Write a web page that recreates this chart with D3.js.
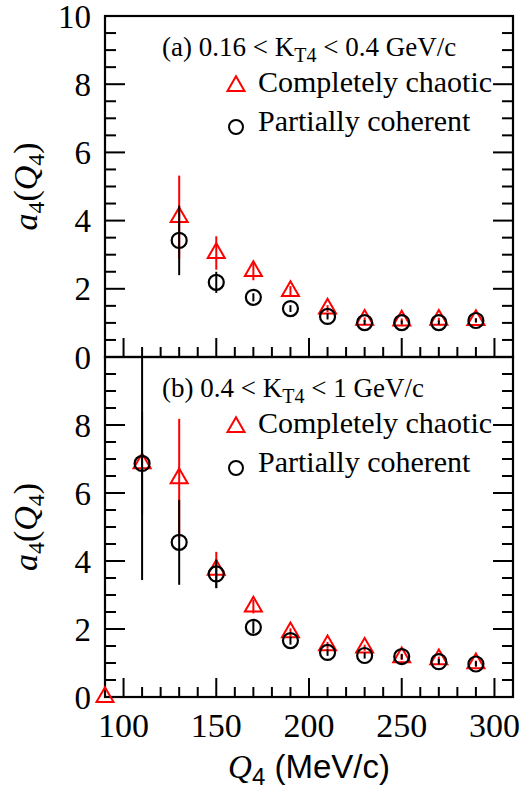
<!DOCTYPE html>
<html><head><meta charset="utf-8">
<script src="https://cdn.jsdelivr.net/npm/d3@7"></script>
<style>body{margin:0;background:#fff}svg{display:block}</style>
</head><body>
<script>
// ---- data ----
const qTop = [130, 150, 170, 190, 210, 230, 250, 270, 290];
const chaoticTop = [4.10, 3.05, 2.52, 1.93, 1.42, 1.09, 1.07, 1.09, 1.08];
const chaoticTopErr = [1.22, 0.49, 0.27, 0.15, 0.10, 0.07, 0.06, 0.06, 0.06];
const coherentTop = [3.42, 2.19, 1.75, 1.42, 1.19, 1.01, 1.01, 1.01, 1.07];
const coherentTopErr = [1.02, 0.31, 0.12, 0.10, 0.09, 0.07, 0.06, 0.06, 0.06];

const qBotChaotic = [90, 110, 130, 150, 170, 190, 210, 230, 250, 270, 290];
const chaoticBot = [0, 6.87, 6.43, 3.74, 2.66, 1.90, 1.52, 1.45, 1.17, 1.11, 0.99];
const chaoticBotErr = [0, 1.5, 1.75, 0.53, 0.20, 0.12, 0.10, 0.09, 0.08, 0.08, 0.08];
const qBotCoherent = [110, 130, 150, 170, 190, 210, 230, 250, 270, 290];
const coherentBot = [6.87, 4.55, 3.62, 2.05, 1.66, 1.31, 1.22, 1.19, 1.04, 0.97];
const coherentBotErr = [3.43, 1.25, 0.42, 0.18, 0.12, 0.10, 0.09, 0.08, 0.08, 0.08];

const xTicks = [100, 150, 200, 250, 300];
const yTicksTop = [0, 2, 4, 6, 8, 10];
const yTicksBot = [0, 2, 4, 6, 8];
const panelLabels = [["(a) 0.16 < K", "T4", " < 0.4 GeV/c"], ["(b) 0.4 < K", "T4", " < 1 GeV/c"]];
const legendNames = ["Completely chaotic", "Partially coherent"];

// ---- layout ----
const W = 527, H = 791;
const L = 105, R = 513;
const panels = [{top: 16, bot: 357}, {top: 357, bot: 697}];
const SERIF = "Liberation Serif, DejaVu Serif, serif";
const SANS = "Liberation Sans, Arial, sans-serif";
const RED = "#ff0000";

const svg = d3.select("body").append("svg").attr("width", W).attr("height", H);
const x = d3.scaleLinear().domain([90, 310]).range([L, R]);

const datasets = [
  {chaotic: {q: qTop, v: chaoticTop, e: chaoticTopErr}, coherent: {q: qTop, v: coherentTop, e: coherentTopErr}, yt: yTicksTop},
  {chaotic: {q: qBotChaotic, v: chaoticBot, e: chaoticBotErr}, coherent: {q: qBotCoherent, v: coherentBot, e: coherentBotErr}, yt: yTicksBot}
];

function triPath(cx, cy, s) {
  const h = s * 0.866;
  return `M${cx},${cy - h * 2 / 3}L${cx + s / 2},${cy + h / 3}L${cx - s / 2},${cy + h / 3}Z`;
}

panels.forEach((p, i) => {
  const y = d3.scaleLinear().domain([0, 10]).range([p.bot, p.top]);
  const ds = datasets[i];
  const g = svg.append("g");
  const clipId = "clip" + i;
  svg.append("clipPath").attr("id", clipId).append("rect")
    .attr("x", L - 20).attr("y", p.top).attr("width", R - L + 40).attr("height", p.bot - p.top + 20);

  const xMinor = d3.range(90, 311, 10);
  xMinor.forEach(v => {
    const major = v % 50 === 0;
    g.append("line").attr("x1", x(v)).attr("x2", x(v))
      .attr("y1", p.bot).attr("y2", p.bot - (major ? 19 : 10))
      .attr("stroke", "#000").attr("stroke-width", 2);
  });
  d3.range(0, 10.01, 0.5).forEach(v => {
    const major = Math.abs(v % 2) < 1e-6;
    const len = major ? 20 : 11;
    g.append("line").attr("x1", L).attr("x2", L + len).attr("y1", y(v)).attr("y2", y(v))
      .attr("stroke", "#000").attr("stroke-width", 2);
    g.append("line").attr("x1", R).attr("x2", R - len).attr("y1", y(v)).attr("y2", y(v))
      .attr("stroke", "#000").attr("stroke-width", 2);
  });
  g.append("rect").attr("x", L).attr("y", p.top).attr("width", R - L).attr("height", p.bot - p.top)
    .attr("fill", "none").attr("stroke", "#000").attr("stroke-width", 2.2);

  ds.yt.forEach(v => {
    g.append("text").attr("x", 91).attr("y", y(v)).attr("dy", "0.35em")
      .attr("text-anchor", "end").attr("font-family", SERIF).attr("font-size", 33).text(v);
  });

  const cy = (p.top + p.bot) / 2;
  const yt = g.append("text").attr("transform", `translate(37,${cy}) rotate(-90)`)
    .attr("text-anchor", "middle").attr("font-family", SERIF).attr("font-style", "italic").attr("font-size", 34);
  yt.append("tspan").text("a");
  yt.append("tspan").attr("font-size", 24).attr("font-style", "normal").attr("dy", 7).text("4");
  yt.append("tspan").attr("dy", -7).attr("font-style", "normal").text("(");
  yt.append("tspan").text("Q");
  yt.append("tspan").attr("font-size", 24).attr("font-style", "normal").attr("dy", 7).text("4");
  yt.append("tspan").attr("dy", -7).attr("font-style", "normal").text(")");

  const dg = svg.append("g").attr("clip-path", `url(#${clipId})`);
  const c = ds.chaotic, k = ds.coherent;
  c.q.forEach((q, j) => {
    if (c.e[j] > 0) dg.append("line").attr("x1", x(q)).attr("x2", x(q))
      .attr("y1", y(c.v[j] - c.e[j])).attr("y2", y(c.v[j] + c.e[j]))
      .attr("stroke", RED).attr("stroke-width", 2);
    dg.append("path").attr("d", triPath(x(q), y(c.v[j]), 17))
      .attr("fill", "none").attr("stroke", RED).attr("stroke-width", 2);
  });
  k.q.forEach((q, j) => {
    dg.append("line").attr("x1", x(q)).attr("x2", x(q))
      .attr("y1", y(k.v[j] - k.e[j])).attr("y2", y(k.v[j] + k.e[j]))
      .attr("stroke", "#000").attr("stroke-width", 2);
    dg.append("circle").attr("cx", x(q)).attr("cy", y(k.v[j])).attr("r", 7.5)
      .attr("fill", "none").attr("stroke", "#000").attr("stroke-width", 2.2);
  });

  const off = p.top - 16;
  const lab = panelLabels[i];
  const ht = g.append("text").attr("x", 162).attr("y", 56 + off)
    .attr("font-family", SERIF).attr("font-size", 27);
  ht.append("tspan").text(lab[0]);
  ht.append("tspan").attr("font-size", 20).attr("dy", 6).text(lab[1]);
  ht.append("tspan").attr("dy", -6).text(lab[2]);

  g.append("path").attr("d", triPath(236, 86 + off, 17)).attr("fill", "none").attr("stroke", RED).attr("stroke-width", 2);
  g.append("text").attr("x", 258).attr("y", 92 + off).attr("font-family", SERIF).attr("font-size", 30).text(legendNames[0]);
  g.append("circle").attr("cx", 236).attr("cy", 127 + off).attr("r", 7).attr("fill", "none").attr("stroke", "#000").attr("stroke-width", 2);
  g.append("text").attr("x", 258).attr("y", 131 + off).attr("font-family", SERIF).attr("font-size", 30).text(legendNames[1]);
});

xTicks.forEach(v => {
  svg.append("text").attr("x", x(v)).attr("y", 737).attr("text-anchor", "middle")
    .attr("font-family", SERIF).attr("font-size", 34).text(v);
});
const xt = svg.append("text").attr("x", 309).attr("y", 778).attr("text-anchor", "middle")
  .attr("font-size", 33);
xt.append("tspan").attr("font-family", SERIF).attr("font-style", "italic").text("Q");
xt.append("tspan").attr("font-family", SANS).attr("font-size", 24).attr("dy", 7).text("4");
xt.append("tspan").attr("font-family", SANS).attr("dy", -7).text(" (MeV/c)");
</script>
</body></html>
